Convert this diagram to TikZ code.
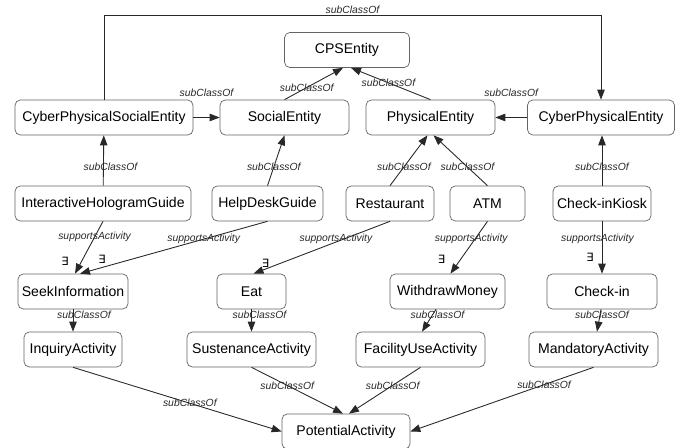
\documentclass[tikz,border=0pt]{standalone}
\usepackage{fontspec}
\setmainfont{Liberation Sans}
\newfontfamily\exfont{DejaVu Sans}
\usetikzlibrary{arrows.meta, positioning, calc}
\definecolor{boxgray}{RGB}{100, 100, 100}
\definecolor{linegray}{RGB}{40, 40, 40}

\begin{document}
\begin{tikzpicture}[x=0.02cm, y=-0.02cm, >={Triangle[length=0.2cm, width=0.15cm]},
    cls/.style={draw=boxgray, rounded corners=3pt, minimum width=#1, minimum height=0.7cm, inner sep=2pt, font=\fontsize{8}{9.6}\selectfont},
    rel/.style={->, draw=linegray, line width=0.5pt},
    lbl/.style={font=\fontsize{5.9}{7}\selectfont\itshape, text=linegray, inner sep=1pt},
    exq/.style={font=\exfont\fontsize{6.5}{8}\selectfont, inner sep=0pt}]
    \useasboundingbox (0,0) rectangle (684,448);

    % Entity nodes
    \node[cls=2.5cm] (cps) at (347,50) {CPSEntity};
    \node[cls=3.56cm] (cpsoc) at (104,117.5) {CyberPhysicalSocialEntity};
    \node[cls=2.58cm] (social) at (284.5,117.5) {SocialEntity};
    \node[cls=2.58cm] (physical) at (430.5,117.5) {PhysicalEntity};
    \node[cls=2.94cm] (cpe) at (601,117.5) {CyberPhysicalEntity};

    % Device nodes
    \node[cls=3.52cm] (hologram) at (103,203.5) {InteractiveHologramGuide};
    \node[cls=2.22cm] (helpdesk) at (267.5,203.5) {HelpDeskGuide};
    \node[cls=1.76cm] (restaurant) at (390,203.5) {Restaurant};
    \node[cls=1.5cm] (atm) at (487.5,203.5) {ATM};
    \node[cls=1.96cm] (kiosk) at (602,203.5) {Check-inKiosk};

    % Activity nodes
    \node[cls=2.2cm] (seek) at (73,291.5) {SeekInformation};
    \node[cls=1.38cm] (eat) at (251.5,291.5) {Eat};
    \node[cls=2.3cm] (withdraw) at (447.5,291.5) {WithdrawMoney};
    \node[cls=2.2cm] (checkin) at (602,291.5) {Check-in};
    \node[cls=1.96cm] (inquiry) at (73,349.5) {InquiryActivity};
    \node[cls=2.58cm] (sustenance) at (251.5,349.5) {SustenanceActivity};
    \node[cls=2.58cm] (facility) at (420.5,349.5) {FacilityUseActivity};
    \node[cls=2.58cm] (mandatory) at (593.5,349.5) {MandatoryActivity};
    \node[cls=2.56cm] (potential) at (346,431.5) {PotentialActivity};

    % subClassOf links
    \draw[rel] (cpsoc.north) -- ++(0,-84) -| node[lbl, pos=0.25, above] {subClassOf} (cpe.north);
    \draw[rel] (cpsoc) -- node[lbl, yshift=0.5cm] {subClassOf} (social);
    \draw[rel] (cpe) -- node[lbl, yshift=0.5cm] {subClassOf} (physical);
    \draw[rel] (social.north) -- node[lbl, pos=0.38] {subClassOf} ([xshift=-0.08cm]cps.south);
    \draw[rel] (physical.north) -- node[lbl, pos=0.53] {subClassOf} ([xshift=0.08cm]cps.south);
    \draw[rel] (hologram) -- node[lbl, pos=0.37, xshift=0.14cm] {subClassOf} (cpsoc);
    \draw[rel] (helpdesk.north) -- node[lbl, pos=0.37] {subClassOf} (social.south);
    \draw[rel] (restaurant.north) -- node[lbl, pos=0.37] {subClassOf} ([xshift=-0.06cm]physical.south);
    \draw[rel] (atm.north) -- node[lbl, pos=0.37] {subClassOf} ([xshift=0.06cm]physical.south);
    \draw[rel] (kiosk.north) -- node[lbl, pos=0.37] {subClassOf} (kiosk.north |- cpe.south);

    % supportsActivity links
    \draw[rel] (hologram.south) -- node[lbl, pos=0.3] {supportsActivity}
        node[exq, pos=1, xshift=-0.2cm, yshift=0.24cm] {∃} ([xshift=0.04cm]seek.north);
    \draw[rel] (helpdesk.south) -- node[lbl, pos=0.34] {supportsActivity}
        node[exq, pos=1, xshift=0.44cm, yshift=0.28cm] {∃} ([xshift=0.14cm]seek.north);
    \draw[rel] (restaurant.south) -- node[lbl, pos=0.33, xshift=-0.18cm] {supportsActivity}
        node[exq, pos=1, xshift=0.24cm, yshift=0.2cm] {∃} ([xshift=0.04cm]eat.north);
    \draw[rel] (atm.south) -- node[lbl, pos=0.33, xshift=-0.08cm] {supportsActivity}
        node[exq, pos=1, xshift=-0.18cm, yshift=0.28cm] {∃} ([xshift=0.06cm]withdraw.north);
    \draw[rel] (kiosk.south) -- node[lbl, pos=0.33, xshift=-0.09cm] {supportsActivity}
        node[exq, pos=1, xshift=-0.24cm, yshift=0.32cm] {∃} (checkin.north);

    % Activity hierarchy
    \draw[rel] (seek) -- node[lbl, pos=0.25, xshift=0.22cm] {subClassOf} (inquiry);
    \draw[rel] (eat) -- node[lbl, pos=0.25, xshift=0.16cm] {subClassOf} (sustenance);
    \draw[rel] ([xshift=-0.23cm]withdraw.south) -- node[lbl, pos=0.25, xshift=0.1cm] {subClassOf} ([xshift=0.03cm]facility.north);
    \draw[rel] ([xshift=-0.02cm]checkin.south) -- node[lbl, pos=0.25, xshift=0.04cm] {subClassOf} ([xshift=0.07cm]mandatory.north);
    \draw[rel] (inquiry.south) -- node[lbl, pos=0.56] {subClassOf} (potential.west);
    \draw[rel] (sustenance.south) -- node[lbl, pos=0.39] {subClassOf} ([xshift=-0.06cm]potential.north);
    \draw[rel] (facility.south) -- node[lbl, pos=0.39] {subClassOf} ([xshift=0.06cm]potential.north);
    \draw[rel] (mandatory.south) -- node[lbl, pos=0.27] {subClassOf} (potential.east);
\end{tikzpicture}
\end{document}
